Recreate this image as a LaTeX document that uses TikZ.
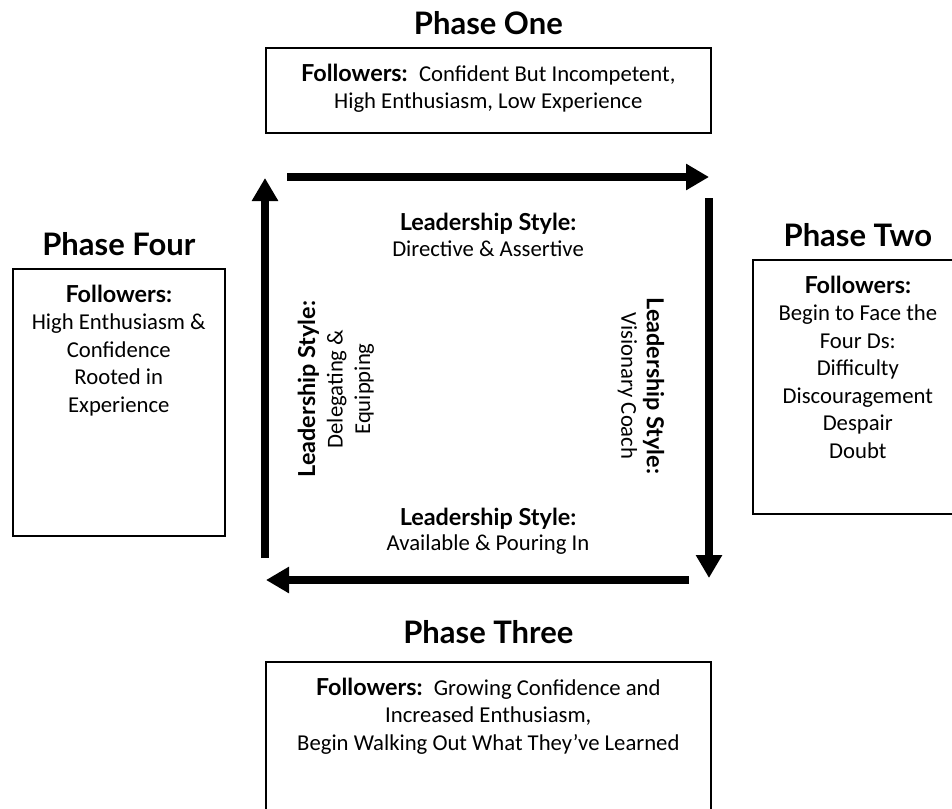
\documentclass[tikz,border=0pt]{standalone}
\usepackage{fontspec}
\setmainfont{Carlito}
\newfontfamily\headfont{Lato}
\usetikzlibrary{positioning,arrows.meta}

\newcommand{\bodyfont}{\fontsize{22.7}{27.5}\selectfont}
\newcommand{\leadfont}{\headfont\bfseries\fontsize{23.4}{27.5}\selectfont}

\begin{document}
\begin{tikzpicture}[
  x=1pt, y=-1pt,
  node distance = 12pt,
  phasebox/.style={draw=black, line width=1.6pt, anchor=north west, inner sep=0pt},
  boxtext/.style={anchor=north, align=center, inner sep=0pt, font=\bodyfont},
  title/.style={inner sep=0pt, font=\headfont\bfseries\fontsize{31}{37}\selectfont},
  lsnode/.style={align=center, inner sep=0pt, font=\fontsize{22.7}{25.5}\selectfont},
  arw/.style={-{Triangle[length=23pt, width=25pt]}, line width=7.5pt}
  ]

\useasboundingbox (0,0) rectangle (952,808);

% phase one

\node [phasebox, minimum width=445pt, minimum height=85pt] (box1) at (265,47) {};
\node [title, above=of box1] (ph1) {Phase One};
\node [boxtext] (txt1) at ([yshift=-16.5pt]box1.north)
  {{\leadfont Followers:}\enspace Confident But Incompetent,\\
   High Enthusiasm, Low Experience};

% phase two

\node [phasebox, minimum width=210pt, minimum height=254pt] (box2) at (752,259) {};
\node [title, above=of box2] (ph2) {Phase Two};
\node [boxtext] (txt2) at ([yshift=-16.5pt]box2.north)
  {{\leadfont Followers:}\\ Begin to Face the\\ Four Ds:\\ Difficulty\\
   Discouragement\\ Despair\\ Doubt};

% phase three

\node [phasebox, minimum width=445pt, minimum height=170pt] (box3) at (265,661) {};
\node [title, above=17pt of box3] (ph3) {Phase Three};
\node [boxtext] (txt3) at ([yshift=-16.5pt]box3.north)
  {{\leadfont Followers:}\enspace Growing Confidence and\\
   Increased Enthusiasm,\\
   Begin Walking Out What They’ve Learned};

% phase four

\node [phasebox, minimum width=212pt, minimum height=267pt] (box4) at (12,268) {};
\node [title, above=of box4] (ph4) {Phase Four};
\node [boxtext] (txt4) at ([yshift=-16.5pt]box4.north)
  {{\leadfont Followers:}\\ High Enthusiasm \&\\ Confidence\\ Rooted in\\ Experience};

% leadership styles

\node [lsnode] (ls1) at (488,235) {{\leadfont Leadership Style:}\\ Directive \& Assertive};
\node [lsnode, rotate=-90] (ls2) at (641,386) {{\leadfont Leadership Style:}\\ Visionary Coach};
\node [lsnode] (ls3) at (488,531) {{\leadfont Leadership Style:}\\ Available \& Pouring In};
\node [lsnode, rotate=90, font=\bodyfont] (ls4) at (336,389)
  {{\leadfont Leadership Style:}\\ Delegating \&\\ Equipping};

%cycle

\coordinate (a1) at (287,177);
\coordinate (a2) at (709,177);
\coordinate (b1) at (709,198);
\coordinate (b2) at (709,578);
\coordinate (c1) at (689,580);
\coordinate (c2) at (266,580);
\coordinate (d1) at (265,558);
\coordinate (d2) at (265,178);

\draw [arw] (a1) -- (a2);
\draw [arw] (b1) -- (b2);
\draw [arw] (c1) -- (c2);
\draw [arw] (d1) -- (d2);

\end{tikzpicture}
\end{document}
